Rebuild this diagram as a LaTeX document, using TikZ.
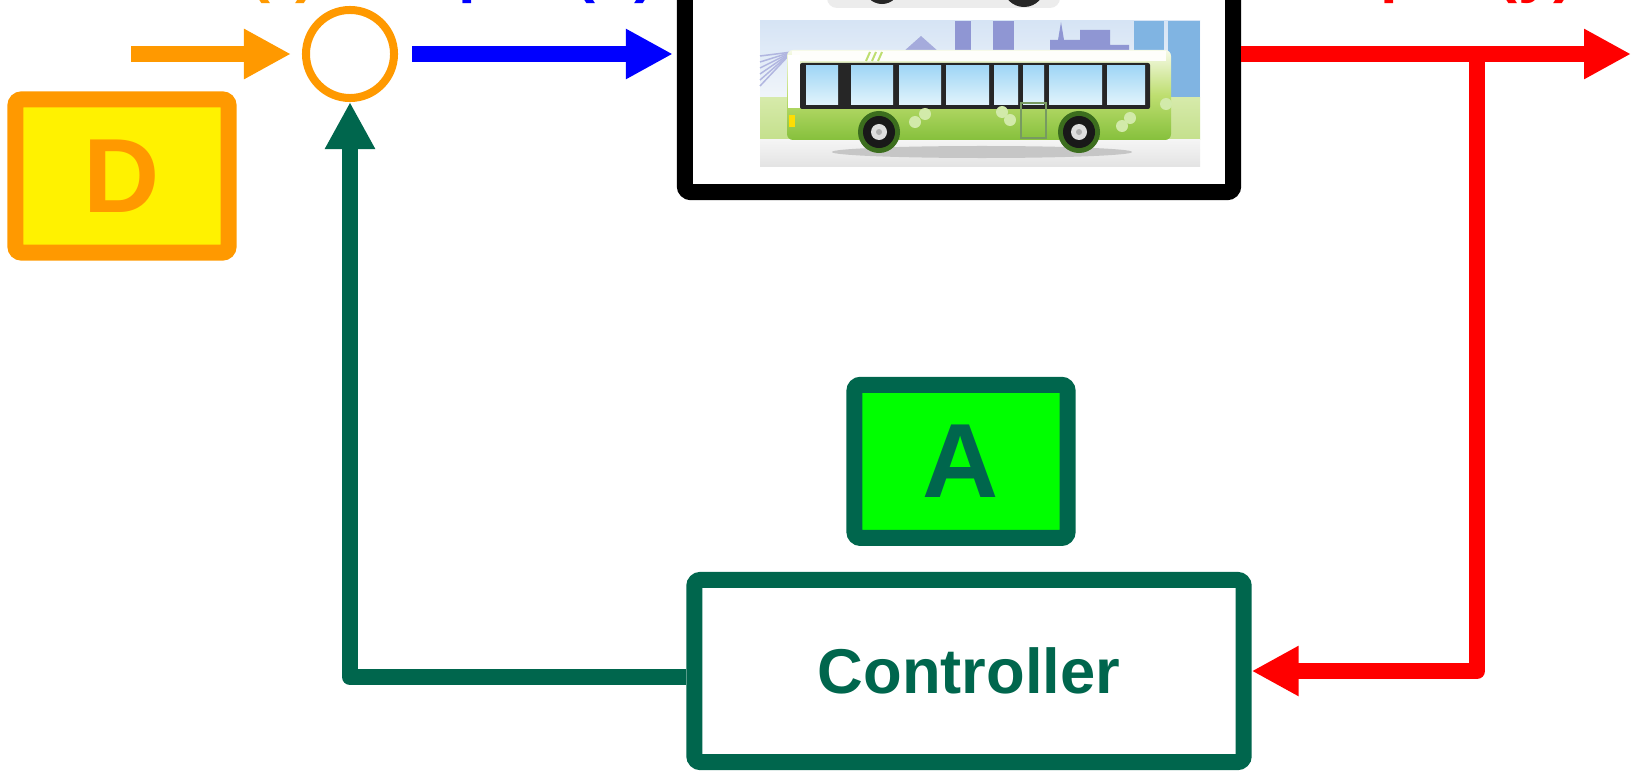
\documentclass[tikz,border=0pt]{standalone}
\usepackage{fontspec}
\setmainfont{Liberation Sans}
\usetikzlibrary{positioning, arrows.meta}

\definecolor{refcol}{RGB}{255,153,0}
\definecolor{ctrlgreen}{RGB}{0,102,77}
\definecolor{lime}{RGB}{0,255,0}
% colours of the bus scene
\definecolor{skytop}{RGB}{214,228,245}
\definecolor{skybot}{RGB}{240,245,250}
\definecolor{skyline}{RGB}{143,150,211}
\definecolor{skyline2}{RGB}{128,180,226}
\definecolor{grassA}{RGB}{214,234,170}
\definecolor{grassB}{RGB}{196,224,140}
\definecolor{busA}{RGB}{246,250,232}
\definecolor{busB}{RGB}{190,222,112}
\definecolor{busC}{RGB}{134,192,60}
\definecolor{busdark}{RGB}{60,110,30}
\definecolor{winA}{RGB}{160,214,245}
\definecolor{winB}{RGB}{226,244,252}
\definecolor{flower}{RGB}{210,234,170}

\tikzset{
sig/.style={line width=0.16cm, line join=round, ->}, % thick signal lines
blockbox/.style={rectangle, line width=0.16cm, rounded corners=0.06cm, inner sep=0pt},
}

\begin{document}
\begin{tikzpicture}[x=0.01cm, y=-0.01cm, >={Triangle[length=0.47cm,width=0.47cm]}, font=\bfseries]
\tikzstyle{plantbox}=[blockbox, draw=black, fill=white, minimum width=5.48cm, minimum height=3.92cm]
\tikzstyle{ctrlbox}=[blockbox, draw=ctrlgreen, fill=white, text=ctrlgreen, minimum width=5.49cm, minimum height=1.82cm, font=\bfseries\fontsize{18}{18}\selectfont]
\tikzstyle{tagbox}=[blockbox, minimum width=2.13cm, minimum height=1.53cm, font=\bfseries\fontsize{30}{30}\selectfont]
\tikzstyle{sum}=[circle, draw=refcol, line width=0.08cm, minimum size=0.88cm, inner sep=0pt]
\tikzstyle{siglabel}=[anchor=base east, inner sep=0pt, font=\bfseries\fontsize{18}{18}\selectfont]

\useasboundingbox (0,0) rectangle (1631,770);
\clip (0,0) rectangle (1631,770);

% blocks
\node [plantbox] (plant) at (959,-4) {};
\node [sum] (sum) at (350,54) {};
\node [ctrlbox] (ctrl) at (969,671) {Controller};
\node [tagbox, draw=ctrlgreen, fill=lime, text=ctrlgreen] (tagA) [above=0.26cm of ctrl, xshift=-0.08cm] {A};
\node [tagbox, draw=refcol, fill=yellow, text=refcol] (tagD) at (122,176) {D};

% signal names
\node [siglabel, text=refcol] (reflabel) at (317,-9) {Reference (r)};
\node [siglabel, text=blue] (inlabel) at (656,-9) {Input (u)};
\node [siglabel, text=red] (outlabel) at (1575,-9) {Output (y)};

% car (only its wheels show)
\fill [gray!15, rounded corners=0.1cm] (827,-60) rectangle (1060,8);
\fill [black!85] (882,-14) circle (0.18cm);
\fill [black!85] (1024,-14) circle (0.21cm);
\fill [gray!40] (882,-14) circle (0.08cm);
\fill [gray!40] (1024,-14) circle (0.09cm);

% bus scene
\shade [top color=skytop, bottom color=skybot] (760,21) rectangle (1200,98);
\fill [skyline] (955,21) rectangle (971,62);
\fill [skyline] (993,21) rectangle (1014,62);
\fill [skyline] (1050,62) -- (1050,40) -- (1058,40) -- (1061,22) -- (1064,40) -- (1080,40) -- (1080,30) -- (1110,30) -- (1110,45) -- (1129,45) -- (1129,62) -- cycle;
\fill [skyline2] (1134,21) rectangle (1164,98);
\fill [skyline2] (1168,21) rectangle (1200,98);
\fill [skyline!80] (903,52) -- (921,36) -- (939,52) -- cycle;
\foreach \y in {56,62,...,86}
  \draw [skyline!70, line width=0.015cm] (792,52) -- (760,\y);
\shade [top color=grassA, bottom color=grassB] (760,98) rectangle (1200,140);
\shade [top color=gray!8, bottom color=gray!22] (760,140) rectangle (1200,167);
\fill [gray!45] (982,152) ellipse [x radius=1.5cm, y radius=0.06cm];

% bus body
\shade [top color=busA, bottom color=busC, middle color=busB, rounded corners=0.06cm] (787,50) rectangle (1171,140);
\fill [white!85!busA] (792,51) rectangle (1166,61);
\foreach \x in {866,872,878}
  \draw [busB, line width=0.02cm] (\x,61) -- (\x+4,52);
\fill [black!85, rounded corners=0.02cm] (800,63) rectangle (1150,109);
\foreach \a/\b in {806/838, 851/893, 899/941, 946/989, 994/1018, 1023/1044, 1049/1102, 1107/1145}
  \shade [top color=winA, bottom color=winB] (\a,66) rectangle (\b,105);
\fill [white] (788,55) rectangle (800,108);
\fill [yellow!80!orange] (789,115) rectangle (795,127);
\draw [busdark!70, line width=0.02cm] (1021,103) rectangle (1046,138);
\foreach \x/\y in {915/122, 925/114, 1002/112, 1010/120, 1122/126, 1130/118, 1166/104}
  \fill [flower] (\x,\y) circle (0.06cm);
\foreach \x in {879,1079} {
  \fill [busdark] (\x,132) circle (0.21cm);
  \fill [black!90] (\x,132) circle (0.16cm);
  \fill [gray!25] (\x,132) circle (0.08cm);
  \fill [gray!60] (\x,132) circle (0.03cm);
}

% signals
\coordinate (refin) at (131,54);
\coordinate (tap) at (1477,54);
\coordinate (out) at (1631,54);
\draw [sig, refcol, shorten >=0.11cm] (refin) -- (sum);
\draw [sig, blue, shorten <=0.14cm, shorten >=0.04cm] (sum.east) -- (sum.east -| plant.west);
\draw [sig, red] (plant.east |- tap) -- (out);
\draw [sig, red] (tap) |- (ctrl.east);
\draw [sig, ctrlgreen] ([yshift=-0.06cm]ctrl.west) -| (sum);
\end{tikzpicture}
\end{document}
